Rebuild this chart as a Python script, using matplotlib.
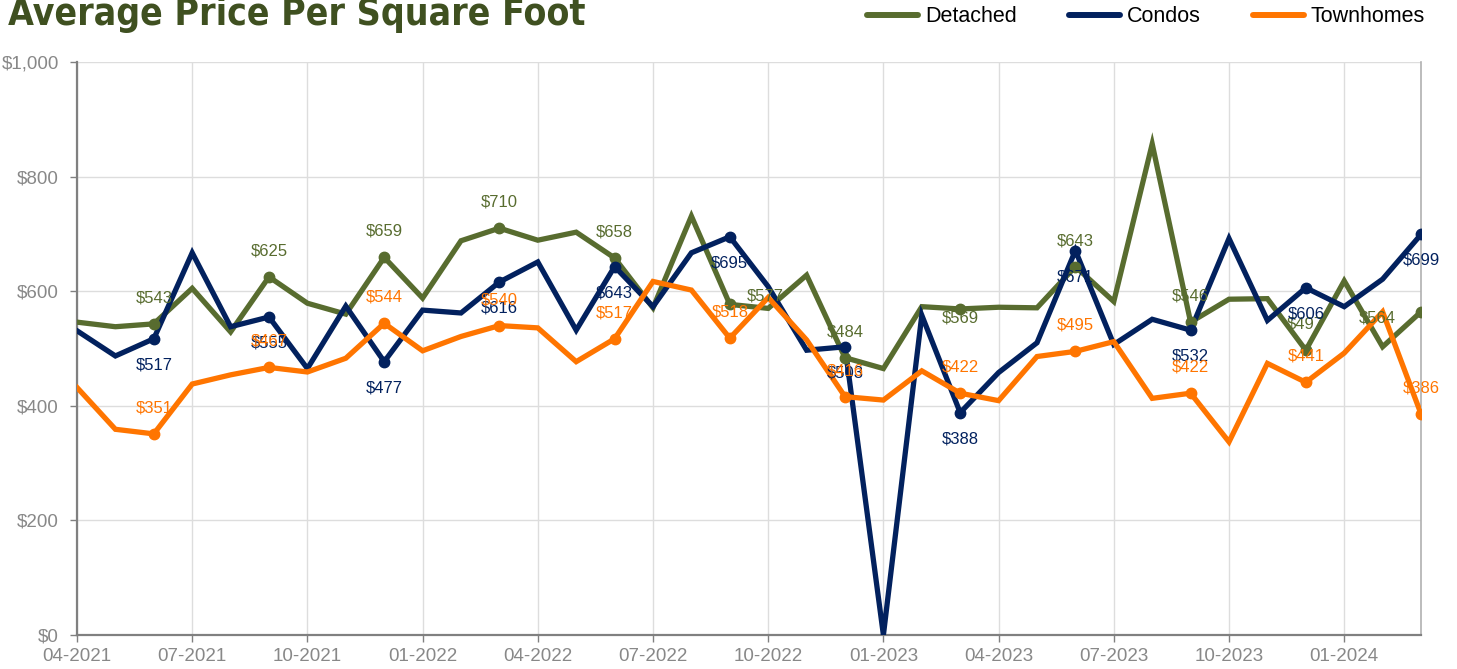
import matplotlib
matplotlib.use("Agg")
import matplotlib.pyplot as plt
from matplotlib.lines import Line2D

plt.rcParams["font.family"] = ["Liberation Sans", "DejaVu Sans"]

# ---- data ----
months = ["04-2021", "05-2021", "06-2021", "07-2021", "08-2021", "09-2021",
          "10-2021", "11-2021", "12-2021", "01-2022", "02-2022", "03-2022",
          "04-2022", "05-2022", "06-2022", "07-2022", "08-2022", "09-2022",
          "10-2022", "11-2022", "12-2022", "01-2023", "02-2023", "03-2023",
          "04-2023", "05-2023", "06-2023", "07-2023", "08-2023", "09-2023",
          "10-2023", "11-2023", "12-2023", "01-2024", "02-2024", "03-2024"]
detached = [546, 538, 543, 605, 529, 625, 579, 560, 659, 588, 688, 710,
            689, 703, 658, 571, 731, 577, 570, 628, 484, 465, 573, 569,
            572, 571, 643, 582, 857, 546, 586, 587, 497, 618, 503, 564]
condos = [531, 487, 517, 667, 538, 555, 465, 574, 477, 567, 562, 616,
          651, 532, 643, 573, 667, 695, 608, 497, 503, 0, 558, 388,
          458, 510, 671, 507, 551, 532, 692, 549, 606, 573, 621, 699]
townhomes = [432, 359, 351, 438, 454, 467, 459, 483, 544, 496, 521, 540,
             536, 477, 517, 617, 602, 518, 589, 515, 416, 410, 461, 422,
             409, 486, 495, 512, 413, 422, 337, 474, 441, 492, 564, 386]
series_names = ["Detached", "Condos", "Townhomes"]
y_ticks = [0, 200, 400, 600, 800, 1000]
x_tick_labels = months[::3]

# ---- style ----
colors = {"Detached": "#586C2F", "Condos": "#02215E", "Townhomes": "#FF7500"}
label_side = {"Detached": 1, "Condos": -1, "Townhomes": 1}
# special label placements (pixel offsets dx, dy) to mimic collision avoidance
label_override = {("Detached", 17): (35, 8), ("Detached", 23): (0, -9),
                  ("Detached", 35): (-44, -6)}

fig = plt.figure(figsize=(14.57, 6.69), dpi=100)
ax = fig.add_axes([77/1457, 34/669, (1421-77)/1457, (635-62)/669])

x = list(range(len(months)))
data = {"Detached": detached, "Condos": condos, "Townhomes": townhomes}
marker_idx = list(range(2, len(months), 3))

for name in series_names:
    vals = data[name]
    c = colors[name]
    ax.plot(x, vals, color=c, lw=3.8, solid_joinstyle="miter", zorder=3)
    ax.plot([x[i] for i in marker_idx], [vals[i] for i in marker_idx], "o",
            color=c, ms=7.5, zorder=4)
    for i in marker_idx:
        dx, dy = label_override.get((name, i), (0, 26 * label_side[name]))
        ax.annotate(f"${vals[i]:,}", (x[i], vals[i]), xytext=(dx, dy),
                    textcoords="offset pixels", ha="center", va="center",
                    color=c, fontsize=12, zorder=5)

ax.set_xlim(0, len(months) - 1)
ax.set_ylim(0, 1000)
ax.set_yticks(y_ticks)
ax.set_yticklabels([f"${v:,}" for v in y_ticks])
ax.set_xticks(x[::3])
ax.set_xticklabels(x_tick_labels)
ax.grid(True, color="#DDDDDD", lw=1, zorder=0)
ax.set_axisbelow(True)
for s in ["left", "bottom"]:
    ax.spines[s].set_color("#808080")
    ax.spines[s].set_linewidth(1.6)
ax.spines["right"].set_color("#B0B0B0")
ax.spines["right"].set_linewidth(1.2)
ax.spines["top"].set_visible(False)
ax.tick_params(axis="both", colors="#808080", labelcolor="#888888",
               labelsize=13.5, length=5, width=1)
ax.tick_params(axis="x", pad=4.5)
ax.tick_params(axis="y", pad=8)

# title (cropped at top like the reference)
fig.text(8/1457, 1 - 25/669, "Average Price Per Square Foot",
         fontsize=26.8, fontweight="bold", fontstretch="condensed",
         color="#3F5020", family="DejaVu Sans",
         ha="left", va="baseline")

# legend
handles = [Line2D([0], [0], color=colors[n], lw=4.3, solid_capstyle="round")
           for n in series_names]
fig.legend(handles, series_names, loc="center right",
           bbox_to_anchor=(1425/1457, 1 - 17/669), ncol=3, frameon=False,
           fontsize=15.5, handlelength=2.37, handletextpad=0.33,
           columnspacing=2.4, borderaxespad=0, borderpad=0)

fig.savefig("out.png", dpi=100)
